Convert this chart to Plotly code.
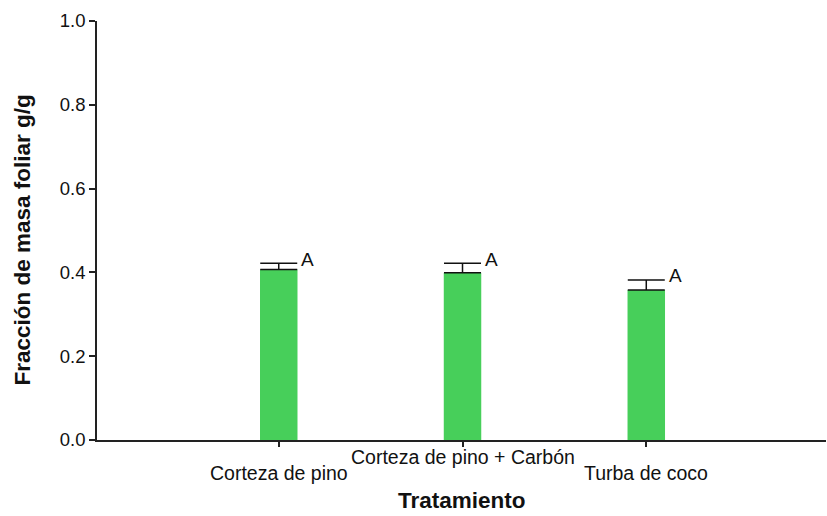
import plotly.graph_objects as go

# Data
tratamientos = ["Corteza de pino", "Corteza de pino + Carbón", "Turba de coco"]
fraccion = [0.407, 0.399, 0.358]
error_sup = [0.015, 0.023, 0.024]
letras = ["A", "A", "A"]
y_ticks = [0.0, 0.2, 0.4, 0.6, 0.8, 1.0]

posiciones = [1, 2, 3]
bar_w = 0.204
font = "Liberation Sans, Arial, sans-serif"

fig = go.Figure()
fig.add_trace(go.Bar(
    x=posiciones,
    y=fraccion,
    width=bar_w,
    marker=dict(color="#47CF5A", line=dict(width=0)),
    error_y=dict(type="data", array=error_sup, symmetric=False, arrayminus=[0, 0, 0],
                 color="#111111", thickness=1.5, width=18.5),
    showlegend=False,
))

annotations = []
# significance letters beside the error-bar caps
for x, m, e, t in zip(posiciones, fraccion, error_sup, letras):
    annotations.append(dict(x=x + bar_w / 2, y=m + e, xref="x", yref="y", text=t,
                            showarrow=False, xanchor="left", yanchor="middle",
                            xshift=2, yshift=4, font=dict(family=font, size=19, color="#111")))

# staggered category labels
label_shift = [-33, -17, -33]
for x, t, s in zip(posiciones, tratamientos, label_shift):
    annotations.append(dict(x=x, y=0, xref="x", yref="paper", text=t, showarrow=False,
                            xanchor="center", yanchor="middle", yshift=s,
                            font=dict(family=font, size=19.5, color="#111")))

# axis titles
annotations.append(dict(x=0.5, y=0, xref="paper", yref="paper", text="<b>Tratamiento</b>",
                        showarrow=False, xanchor="center", yanchor="bottom", yshift=-75,
                        font=dict(family=font, size=22.5, color="#111")))
annotations.append(dict(x=0, y=0.476, xref="paper", yref="paper",
                        text="<b>Fracción de masa foliar g/g</b>", textangle=-90,
                        showarrow=False, xanchor="center", yanchor="middle", xshift=-74,
                        font=dict(family=font, size=22.5, color="#111")))

fig.update_layout(
    width=827, height=516,
    margin=dict(l=97, r=1, t=21, b=76),
    plot_bgcolor="white", paper_bgcolor="white",
    annotations=annotations,
    xaxis=dict(range=[0.011, 3.978], tickvals=posiciones, showticklabels=False,
               ticks="outside", ticklen=5, tickwidth=1.5, tickcolor="#222",
               showline=True, linecolor="#222", linewidth=1.5,
               showgrid=False, zeroline=False, fixedrange=True),
    yaxis=dict(range=[0, 1.0], tickvals=y_ticks, ticktext=[f"{v:.1f}" for v in y_ticks],
               ticks="outside", ticklen=6, tickwidth=1.5, tickcolor="#222",
               showline=True, linecolor="#222", linewidth=1.5,
               showgrid=False, zeroline=False,
               tickfont=dict(family=font, size=18.5, color="#111")),
)

fig.write_html("out.html")
